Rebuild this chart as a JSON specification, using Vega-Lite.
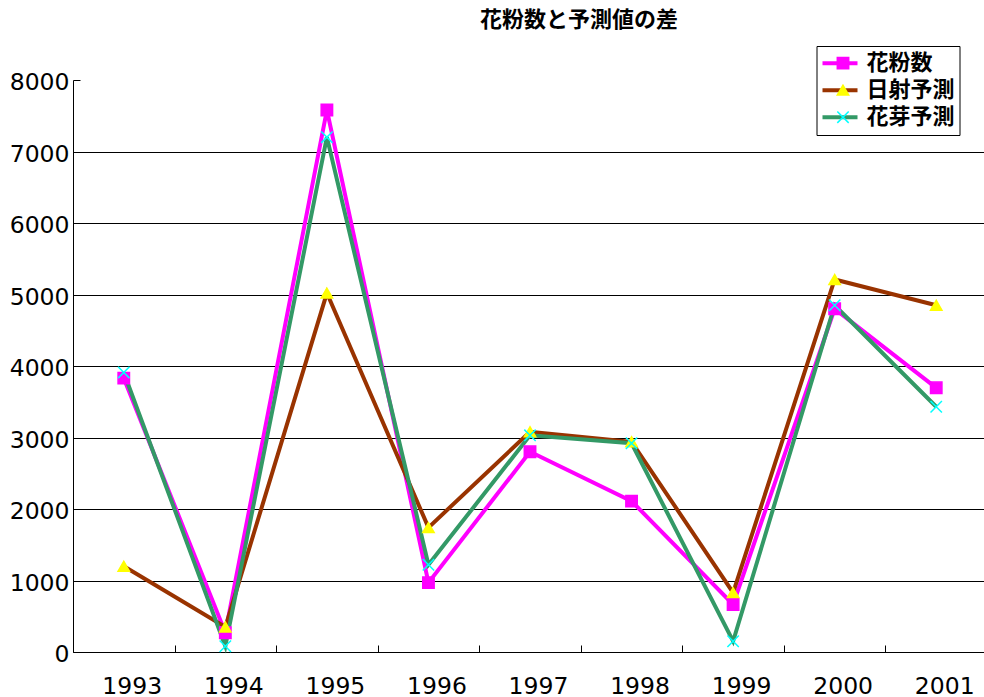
{
  "$schema": "https://vega.github.io/schema/vega-lite/v6.json",
  "width": 914,
  "height": 572,
  "autosize": "none",
  "padding": {"left": 73, "top": 80, "right": 0, "bottom": 45},
  "background": "white",
  "config": {"view": {"stroke": null}},
  "title": {
    "text": "花粉数と予測値の差",
    "font": "Noto Sans CJK JP",
    "fontSize": 22,
    "fontWeight": "bold",
    "color": "black",
    "anchor": "middle",
    "dx": 49,
    "offset": 14
  },
  "data": {
    "values": [
      {"year": "1993", "series": "花粉数", "value": 3830},
      {"year": "1994", "series": "花粉数", "value": 270},
      {"year": "1995", "series": "花粉数", "value": 7580},
      {"year": "1996", "series": "花粉数", "value": 970},
      {"year": "1997", "series": "花粉数", "value": 2800},
      {"year": "1998", "series": "花粉数", "value": 2110},
      {"year": "1999", "series": "花粉数", "value": 665},
      {"year": "2000", "series": "花粉数", "value": 4800},
      {"year": "2001", "series": "花粉数", "value": 3695},
      {"year": "1993", "series": "日射予測", "value": 1200},
      {"year": "1994", "series": "日射予測", "value": 350},
      {"year": "1995", "series": "日射予測", "value": 5020},
      {"year": "1996", "series": "日射予測", "value": 1740},
      {"year": "1997", "series": "日射予測", "value": 3080},
      {"year": "1998", "series": "日射予測", "value": 2940},
      {"year": "1999", "series": "日射予測", "value": 830},
      {"year": "2000", "series": "日射予測", "value": 5210},
      {"year": "2001", "series": "日射予測", "value": 4850},
      {"year": "1993", "series": "花芽予測", "value": 3910},
      {"year": "1994", "series": "花芽予測", "value": 80},
      {"year": "1995", "series": "花芽予測", "value": 7200},
      {"year": "1996", "series": "花芽予測", "value": 1220},
      {"year": "1997", "series": "花芽予測", "value": 3030},
      {"year": "1998", "series": "花芽予測", "value": 2920},
      {"year": "1999", "series": "花芽予測", "value": 150},
      {"year": "2000", "series": "花芽予測", "value": 4850},
      {"year": "2001", "series": "花芽予測", "value": 3430}
    ]
  },
  "encoding": {
    "x": {
      "field": "year",
      "type": "nominal",
      "scale": {"type": "band", "paddingInner": 0, "paddingOuter": 0},
      "axis": {
        "title": null,
        "labelAngle": 0,
        "tickBand": "extent",
        "tickSize": -7,
        "tickColor": "black",
        "tickWidth": 1,
        "domainColor": "black",
        "domainWidth": 1,
        "labelPadding": 29.6,
        "labelOffset": 8,
        "labelFont": "DejaVu Sans",
        "labelFontSize": 23.5,
        "labelColor": "black",
        "grid": false
      }
    },
    "y": {
      "field": "value",
      "type": "quantitative",
      "scale": {"domain": [0, 8000], "nice": false},
      "axis": {
        "title": null,
        "format": "d",
        "values": [0, 1000, 2000, 3000, 4000, 5000, 6000, 7000, 8000],
        "grid": true,
        "gridColor": "black",
        "gridWidth": 1,
        "gridOpacity": {"condition": {"test": "datum.value === 8000 || datum.value === 0", "value": 0}, "value": 1},
        "domainColor": "black",
        "domainWidth": 1,
        "tickColor": "black",
        "tickSize": -7,
        "tickWidth": 1,
        "labelPadding": 11,
        "labelOffset": 2.5,
        "labelFont": "DejaVu Sans",
        "labelFontSize": 23.5,
        "labelColor": "black"
      }
    }
  },
  "layer": [
    {
      "mark": {"type": "line", "strokeWidth": 4},
      "encoding": {
        "color": {
          "field": "series",
          "type": "nominal",
          "sort": ["花粉数", "日射予測", "花芽予測"],
          "scale": {"range": ["#ff00ff", "#993300", "#339966"]},
          "legend": {
            "orient": "none",
            "legendX": 743.5,
            "legendY": -34,
            "title": null,
            "symbolType": "stroke",
            "symbolSize": 1225,
            "symbolStrokeWidth": 4,
            "labelFont": "Noto Sans CJK JP",
            "labelFontSize": 22,
            "labelFontWeight": "bold",
            "labelColor": "black",
            "labelLimit": 0,
            "labelOffset": 7,
            "strokeColor": "black",
            "fillColor": "white",
            "padding": 4,
            "rowPadding": 0,
            "clipHeight": 26.3
          }
        }
      }
    },
    {
      "mark": {"type": "point", "size": 130, "strokeWidth": 1.5, "opacity": 1},
      "encoding": {
        "shape": {
          "field": "series",
          "type": "nominal",
          "scale": {"domain": ["花粉数", "日射予測", "花芽予測"], "range": ["square", "triangle-up", "M-1,-1L1,1M1,-1L-1,1"]},
          "legend": {
            "orient": "none",
            "legendX": 755,
            "legendY": -34,
            "title": null,
            "symbolSize": 130,
            "symbolStrokeWidth": 1.5,
            "labelFont": "Noto Sans CJK JP",
            "labelFontSize": 22,
            "labelFontWeight": "bold",
            "labelColor": "transparent",
            "labelLimit": 0,
            "labelOffset": 7,
            "padding": 4,
            "rowPadding": 0,
            "clipHeight": 26.3
          }
        },
        "fill": {
          "field": "series",
          "type": "nominal",
          "scale": {"domain": ["花粉数", "日射予測", "花芽予測"], "range": ["#ff00ff", "#ffff00", "#00ffff"]},
          "legend": {
            "orient": "none",
            "legendX": 755,
            "legendY": -34,
            "title": null,
            "symbolSize": 130,
            "symbolStrokeWidth": 1.5,
            "labelFont": "Noto Sans CJK JP",
            "labelFontSize": 22,
            "labelFontWeight": "bold",
            "labelColor": "transparent",
            "labelLimit": 0,
            "labelOffset": 7,
            "padding": 4,
            "rowPadding": 0,
            "clipHeight": 26.3
          }
        },
        "stroke": {
          "field": "series",
          "type": "nominal",
          "scale": {"domain": ["花粉数", "日射予測", "花芽予測"], "range": ["#ff00ff", "#ffff00", "#00ffff"]},
          "legend": {
            "orient": "none",
            "legendX": 755,
            "legendY": -34,
            "title": null,
            "symbolSize": 130,
            "symbolStrokeWidth": 1.5,
            "labelFont": "Noto Sans CJK JP",
            "labelFontSize": 22,
            "labelFontWeight": "bold",
            "labelColor": "transparent",
            "labelLimit": 0,
            "labelOffset": 7,
            "padding": 4,
            "rowPadding": 0,
            "clipHeight": 26.3
          }
        }
      }
    }
  ]
}
